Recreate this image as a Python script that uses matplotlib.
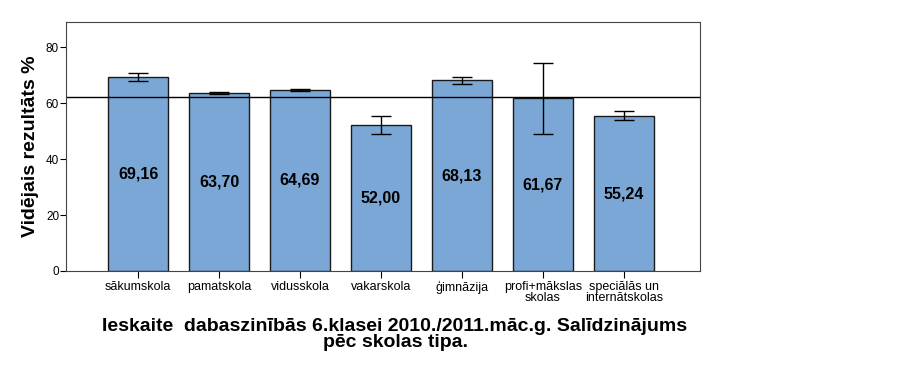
import numpy as np
import matplotlib.pyplot as plt

plt.rcParams['font.family'] = ['Liberation Sans', 'DejaVu Sans']

categories = ['sākumskola', 'pamatskola', 'vidusskola', 'vakarskola', 'ģimnāzija',
              'profi+mākslas\nskolas', 'speciālās un\ninternātskolas']
means = [69.16, 63.70, 64.69, 52.00, 68.13, 61.67, 55.24]
err_low = [67.9, 63.4, 64.4, 48.9, 67.0, 48.9, 53.8]
err_high = [70.6, 64.0, 65.0, 55.4, 69.3, 74.5, 57.0]
overall_mean = 62.1

x = np.arange(len(categories))
means = np.array(means)
yerr = [means - np.array(err_low), np.array(err_high) - means]

fig = plt.figure(figsize=(9.22, 3.66), dpi=100)
ax = fig.add_axes([0.0716, 0.2596, 0.6876, 0.6804])

ax.bar(x, means, width=0.75, color='#7BA7D6', edgecolor='#1a1a1a', linewidth=1)
ax.errorbar(x, means, yerr=yerr, fmt='none', ecolor='black', elinewidth=1,
            capsize=7, capthick=1)
ax.axhline(overall_mean, color='black', linewidth=1)

for xi, v in zip(x, means):
    ax.text(xi, v / 2, f'{v:.2f}'.replace('.', ','), ha='center', va='center',
            fontsize=11.5, fontweight='bold')

ax.set_xlim(-0.89, 6.94)
ax.set_ylim(0, 89)
ax.set_yticks([0, 20, 40, 60, 80])
ax.set_xticks(x)
ax.set_xticklabels(categories, fontsize=9, linespacing=0.95)
ax.tick_params(axis='y', labelsize=8.5, length=4, pad=1)
ax.tick_params(axis='x', length=5, pad=2)
for s in ax.spines.values():
    s.set_color('#444444')

ax.set_ylabel('Vidējais rezultāts %', fontsize=14, fontweight='bold', labelpad=5)

fig.text(395 / 922, 0.087, 'Ieskaite  dabaszinībās 6.klasei 2010./2011.māc.g. Salīdzinājums\npēc skolas tipa.',
         ha='center', va='center', fontsize=14, fontweight='bold', linespacing=0.92)

fig.savefig('out.png', dpi=100)
